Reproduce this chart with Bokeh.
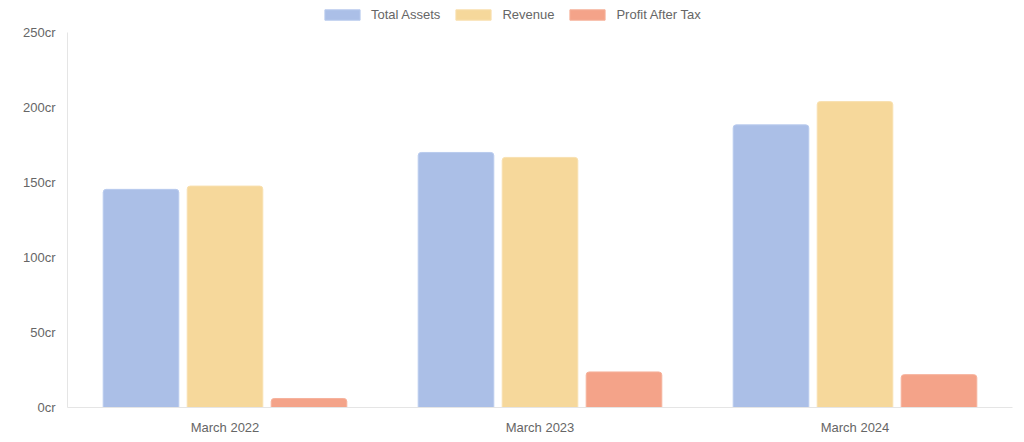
from bokeh.plotting import figure
from bokeh.models import ColumnDataSource, FactorRange, FixedTicker, CustomJSTickFormatter, Legend, LegendItem, Range1d
from bokeh.transform import dodge
from bokeh.embed import file_html
from bokeh.resources import INLINE

periods = ["March 2022", "March 2023", "March 2024"]
total_assets = [145.4, 170.0, 188.4]
revenue = [147.6, 166.7, 203.9]
profit_after_tax = [6.0, 23.7, 21.9]
y_ticks = [0, 50, 100, 150, 200, 250]

src = ColumnDataSource(dict(period=periods, ta=total_assets, rev=revenue, pat=profit_after_tax))

p = figure(x_range=FactorRange(*periods, range_padding=0), y_range=Range1d(0, 271.3),
           width=1016, height=437, output_backend="svg", toolbar_location=None,
           min_border_left=67, min_border_right=4, min_border_top=0, min_border_bottom=26)
p.outline_line_color = None
p.xgrid.grid_line_color = None
p.ygrid.grid_line_color = None

bw = 0.8 / 3 * 0.9
off = 0.8 / 3
series = [("ta", "Total Assets", "#abbfe7", "#b9cbee", -off),
          ("rev", "Revenue", "#f6d89b", "#f8e0b0", 0.0),
          ("pat", "Profit After Tax", "#f4a389", "#f6b29c", off)]
items = []
for key, label, fill, edge, o in series:
    r = p.vbar(x=dodge("period", o, range=p.x_range), top=key, width=bw, source=src,
               fill_color=fill, line_color=edge, line_width=1, border_radius=(3, 3, 0, 0))
    items.append(LegendItem(label=label, renderers=[r]))

legend = Legend(items=items, orientation="horizontal", location=(253, 385),
                glyph_width=44, glyph_height=13, label_text_font="Liberation Sans",
                label_text_font_size="13px", label_text_color="#666666",
                spacing=11, padding=0, margin=0, label_standoff=7, border_line_color=None,
                background_fill_alpha=0, label_height=13)
p.add_layout(legend, "center")

for ax in (p.xaxis[0], p.yaxis[0]):
    ax.axis_line_color = "#e5e5e5"
    ax.major_tick_line_color = None
    ax.minor_tick_line_color = None
    ax.major_tick_out = 0
    ax.major_tick_in = 0
    ax.minor_tick_out = 0
    ax.minor_tick_in = 0
    ax.major_label_text_font = "Liberation Sans"
    ax.major_label_text_font_size = "13px"
    ax.major_label_text_color = "#666666"
p.yaxis.ticker = FixedTicker(ticks=y_ticks)
p.yaxis.bounds = (0, 250)
p.yaxis.formatter = CustomJSTickFormatter(code="return tick + 'cr';")
p.yaxis.major_label_standoff = 12
p.xaxis.major_label_standoff = 12

open("out.html", "w").write(file_html(p, INLINE))
